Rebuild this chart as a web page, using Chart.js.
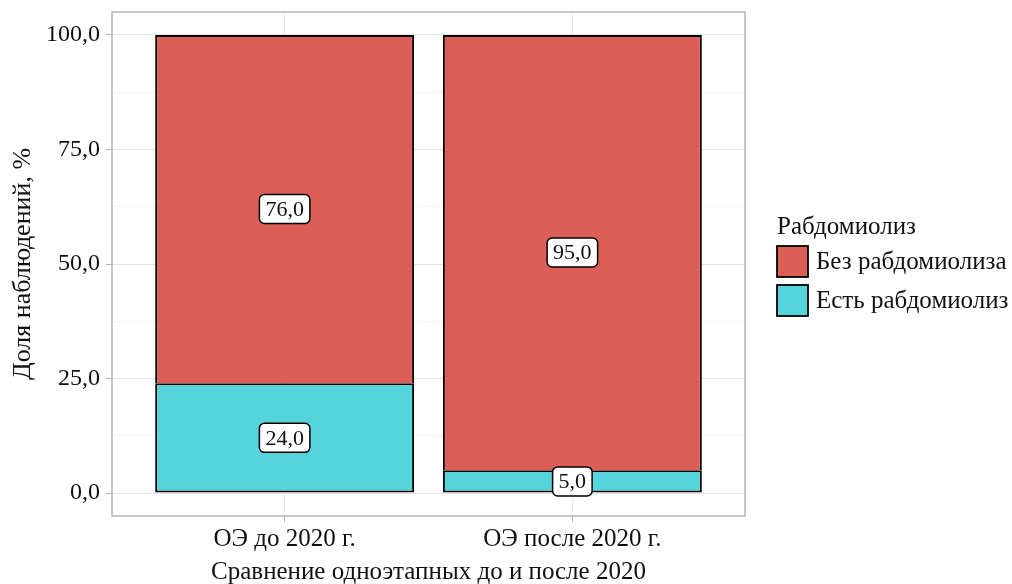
<!DOCTYPE html>
<html>
<head>
<meta charset="utf-8">
<script src="https://cdn.jsdelivr.net/npm/chart.js@4.4.1/dist/chart.umd.min.js"></script>
<style>
    body { margin: 0; background: #fff; }
    #wrap { width: 1012px; height: 584px; }
</style>
</head>
<body>
<div id="wrap"><canvas id="myChart" width="1012" height="584"></canvas></div>
<script>
var categories = ['ОЭ до 2020 г.', 'ОЭ после 2020 г.'];
var withRhabdo = [24.0, 5.0];
var withoutRhabdo = [76.0, 95.0];
var seriesNames = ['Есть рабдомиолиз', 'Без рабдомиолиза'];
var yTicks = [0, 25, 50, 75, 100];
var legendTitle = 'Рабдомиолиз';

var FONT = "'Liberation Serif', 'Times New Roman', serif";

function fmt(v) {
    return v.toFixed(1).replace('.', ',');
}

function points(arr) {
    return arr.map(function (v, i) { return { x: i + 1, y: v }; });
}

// minor grid at half steps
var yAllTicks = [];
for (var i = 0; i < yTicks.length; i++) {
    yAllTicks.push(yTicks[i]);
    if (i < yTicks.length - 1) yAllTicks.push((yTicks[i] + yTicks[i + 1]) / 2);
}

var panelBorder = {
    id: 'panelBorder',
    afterDraw: function (chart) {
        var a = chart.chartArea, c = chart.ctx;
        c.save();
        c.strokeStyle = '#b5b5b5';
        c.lineWidth = 1.5;
        c.strokeRect(a.left, a.top, a.right - a.left, a.bottom - a.top);
        c.restore();
    }
};

var boxLabels = {
    id: 'boxLabels',
    afterDatasetsDraw: function (chart) {
        var c = chart.ctx;
        c.save();
        c.font = '22px ' + FONT;
        c.textAlign = 'center';
        c.textBaseline = 'middle';
        chart.data.datasets.forEach(function (ds, di) {
            var meta = chart.getDatasetMeta(di);
            meta.data.forEach(function (el, j) {
                var txt = fmt(ds.data[j].y);
                var cy = (el.y + el.base) / 2;
                var w = c.measureText(txt).width + 12;
                var h = 29;
                c.beginPath();
                c.roundRect(el.x - w / 2, cy - h / 2, w, h, 5);
                c.fillStyle = '#fff';
                c.fill();
                c.lineWidth = 1.5;
                c.strokeStyle = '#000';
                c.stroke();
                c.fillStyle = '#111';
                c.fillText(txt, el.x, cy + 1);
            });
        });
        c.restore();
    }
};

var sideLegend = {
    id: 'sideLegend',
    afterDraw: function (chart) {
        var c = chart.ctx;
        var x0 = 777, y0 = 227;
        c.save();
        c.font = '25px ' + FONT;
        c.textAlign = 'left';
        c.textBaseline = 'middle';
        c.fillStyle = '#111';
        c.fillText(legendTitle, x0, y0);
        var list = chart.data.datasets.slice().reverse();
        list.forEach(function (ds, k) {
            var top = 246 + k * 39;
            c.fillStyle = ds.backgroundColor;
            c.fillRect(x0, top, 31, 31);
            c.lineWidth = 1.8;
            c.strokeStyle = '#000';
            c.strokeRect(x0, top, 31, 31);
            c.fillStyle = '#111';
            c.fillText(ds.label, 816, top + 16);
        });
        c.restore();
    }
};

var ctx = document.getElementById('myChart');

var data = {
    datasets: [{
        label: seriesNames[0],
        data: points(withRhabdo),
        backgroundColor: 'rgb(86, 212, 220)',
        borderColor: '#000',
        borderWidth: 2,
        borderSkipped: false,
        barPercentage: 0.9,
        categoryPercentage: 1
    }, {
        label: seriesNames[1],
        data: points(withoutRhabdo),
        backgroundColor: 'rgb(219, 95, 87)',
        borderColor: '#000',
        borderWidth: 2,
        borderSkipped: 'bottom',
        barPercentage: 0.9,
        categoryPercentage: 1
    }]
};

var option = {
    responsive: false,
    animation: false,
    layout: { padding: { left: 0, top: 12, right: 267, bottom: 0 } },
    plugins: {
        legend: { display: false },
        tooltip: { enabled: false }
    },
    scales: {
        x: {
            type: 'linear',
            offset: false,
            stacked: true,
            min: 0.4,
            max: 2.6,
            afterBuildTicks: function (scale) {
                scale.ticks = categories.map(function (_, i) { return { value: i + 1 }; });
            },
            afterFit: function (scale) {
                scale.height = 68;
                scale.paddingLeft = 0;
                scale.paddingRight = 0;
            },
            grid: { offset: false, color: '#ebebeb', tickColor: '#b5b5b5', tickLength: 6 },
            border: { display: false },
            ticks: {
                padding: 2,
                color: '#111',
                maxRotation: 0,
                font: { family: FONT, size: 25 },
                callback: function (v) { return categories[Math.round(v) - 1] || ''; }
            },
            title: {
                display: true,
                text: 'Сравнение одноэтапных до и после 2020',
                color: '#111',
                font: { family: FONT, size: 25, lineHeight: 0.9 },
                padding: { top: 0, bottom: 0 }
            }
        },
        y: {
            stacked: true,
            min: -5,
            max: 105,
            afterBuildTicks: function (scale) {
                scale.ticks = yAllTicks.map(function (v) { return { value: v }; });
            },
            afterFit: function (scale) {
                scale.width = 112;
                scale.paddingTop = 0;
                scale.paddingBottom = 0;
            },
            grid: {
                color: function (c) { return c.tick && c.tick.value % 25 === 0 ? '#e4e4e4' : '#f3f3f3'; },
                tickColor: function (c) { return c.tick && c.tick.value % 25 === 0 ? '#b5b5b5' : 'rgba(0,0,0,0)'; },
                tickLength: 6
            },
            border: { display: false },
            ticks: {
                padding: 6,
                color: '#111',
                font: { family: FONT, size: 24 },
                callback: function (v) { return v % 25 === 0 ? fmt(v) : ''; }
            },
            title: {
                display: true,
                text: 'Доля наблюдений, %',
                color: '#111',
                font: { family: FONT, size: 26 },
                padding: { top: 8, bottom: 0 }
            }
        }
    }
};

var myChart = new Chart(ctx, {
    type: 'bar',
    data: data,
    options: option,
    plugins: [panelBorder, boxLabels, sideLegend]
});
</script>
</body>
</html>
